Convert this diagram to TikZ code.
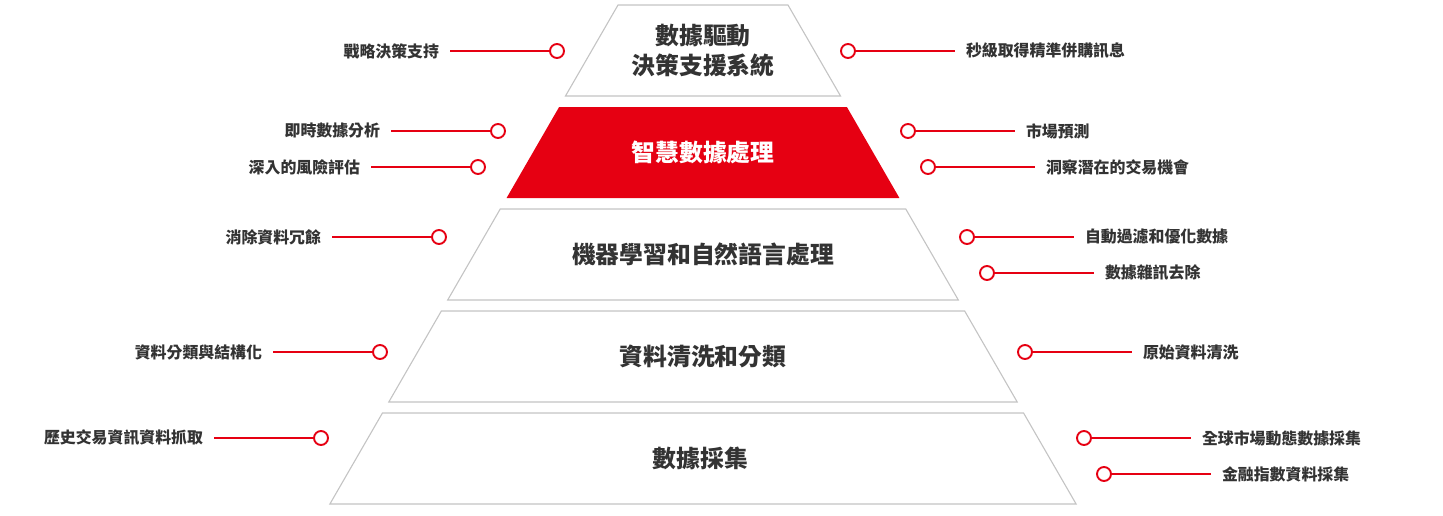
\documentclass[tikz,border=0pt]{standalone}
\usepackage{fontspec}
\setmainfont{Noto Sans CJK TC}
\usepackage{tikz}
\usetikzlibrary{positioning}

\definecolor{brandred}{HTML}{E60012}
\definecolor{darktext}{HTML}{333333}
\definecolor{edgegray}{HTML}{C4C4C4}

\begin{document}
\begin{tikzpicture}[
        x=1pt, y=-1pt,
        level/.style={draw=edgegray, line width=1.1pt, fill=white},
        hot/.style={fill=brandred},
        title/.style={align=center, font=\fontsize{23.8}{29.5}\selectfont\bfseries, text=darktext},
        item/.style={font=\fontsize{15.9}{18}\selectfont\bfseries, text=darktext, inner sep=0pt, outer xsep=11pt},
        dot/.style={circle, draw=brandred, line width=1.9pt, fill=white, minimum size=14pt, inner sep=0pt, outer sep=0pt},
        link/.style={draw=brandred, line width=1.8pt}
    ]
        \useasboundingbox (0,0) rectangle (1443,515);
        % pyramid levels
        \foreach \curr/\top/\kind/\content in {
                1/5/level/{數據驅動\\決策支援系統},
                2/107/hot/{\textcolor{white}{智慧數據處理}},
                3/209/level/{機器學習和自然語言處理},
                4/311/level/{資料清洗和分類},
                5/413/level/{數據採集}
                } {
            \pgfmathsetmacro\upper{82.1+0.5774*\top}
            \pgfmathsetmacro\lower{82.1+0.5774*(\top+91)}
            \path[\kind] (703-\upper,\top) -- (703+\upper,\top)
                -- (703+\lower,\top+91) -- (703-\lower,\top+91) -- cycle;
            \node[title] (T\curr) at (703,\top+45.5) {\content};
        }
        % left labels
        \foreach \curr/\y/\x/\content in {
                a/51/557/戰略決策支持,
                b/131/498/即時數據分析,
                c/167/478/深入的風險評估,
                d/237/439/消除資料冗餘,
                e/352/380/資料分類與結構化,
                f/438/321/歷史交易資訊資料抓取
                } {
            \node[dot] (LD\curr) at (\x,\y) {};
            \node[item, left=100pt of LD\curr] (LT\curr) {\content};
            \draw[link] (LT\curr.east) to (LD\curr);
        }
        % right labels
        \foreach \curr/\y/\x/\content in {
                a/51/848/秒級取得精準併購訊息,
                b/131/908/市場預測,
                c/167/928/洞察潛在的交易機會,
                d/237/967/自動過濾和優化數據,
                e/273/987/數據雜訊去除,
                f/352/1025/原始資料清洗,
                g/438/1084/全球市場動態數據採集,
                h/474/1104/金融指數資料採集
                } {
            \node[dot] (RD\curr) at (\x,\y) {};
            \node[item, right=100pt of RD\curr] (RT\curr) {\content};
            \draw[link] (RD\curr) to (RT\curr.west);
        }
    \end{tikzpicture}
\end{document}
